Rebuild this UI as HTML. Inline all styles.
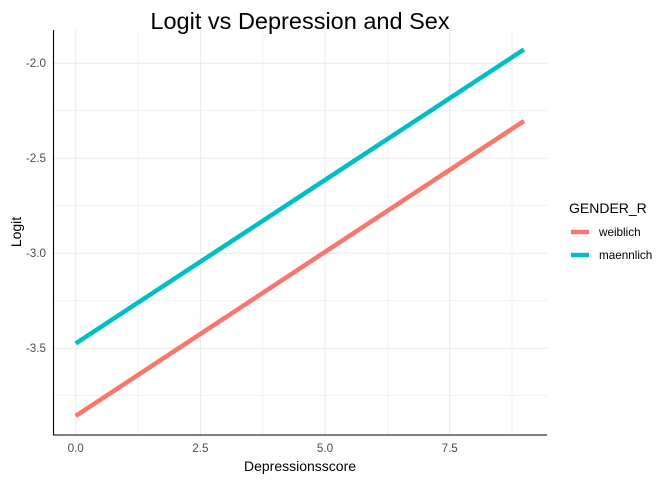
<!DOCTYPE html>
<html><head><style>body{margin:0;background:#fff}svg{display:block}</style></head>
<body>
<svg width="672" height="480" xmlns="http://www.w3.org/2000/svg" font-family="Liberation Sans, sans-serif">
<rect width="672" height="480" fill="#fff"/>
<g stroke="#ebebeb" stroke-width="0.6">
<line x1="54" x2="547" y1="110.7" y2="110.7"/><line x1="54" x2="547" y1="205.7" y2="205.7"/>
<line x1="54" x2="547" y1="300.7" y2="300.7"/><line x1="54" x2="547" y1="395.7" y2="395.7"/>
<line y1="30" y2="435" x1="138" x2="138"/><line y1="30" y2="435" x1="263" x2="263"/>
<line y1="30" y2="435" x1="388" x2="388"/><line y1="30" y2="435" x1="512" x2="512"/>
</g>
<g stroke="#ebebeb" stroke-width="1.1">
<line x1="54" x2="547" y1="63.3" y2="63.3"/><line x1="54" x2="547" y1="158.3" y2="158.3"/>
<line x1="54" x2="547" y1="253.3" y2="253.3"/><line x1="54" x2="547" y1="348.3" y2="348.3"/>
<line y1="30" y2="435" x1="75.7" x2="75.7"/><line y1="30" y2="435" x1="200.4" x2="200.4"/>
<line y1="30" y2="435" x1="325" x2="325"/><line y1="30" y2="435" x1="449.7" x2="449.7"/>
</g>
<line x1="75.7" y1="416" x2="524" y2="121" stroke="#F8766D" stroke-width="4.5"/>
<line x1="75.7" y1="343.5" x2="524" y2="49.5" stroke="#00BFC4" stroke-width="4.5"/>
<polyline points="53.5,30 53.5,435 547,435" fill="none" stroke="#000" stroke-width="1.1"/>
<g font-size="11.7" fill="#4d4d4d" text-anchor="end">
<text x="46" y="67">-2.0</text><text x="46" y="162">-2.5</text>
<text x="46" y="257">-3.0</text><text x="46" y="352">-3.5</text>
</g>
<g font-size="11.7" fill="#4d4d4d" text-anchor="middle">
<text x="75.7" y="452">0.0</text><text x="200.4" y="452">2.5</text>
<text x="325" y="452">5.0</text><text x="449.7" y="452">7.5</text>
</g>
<text x="300" y="471" font-size="14" text-anchor="middle">Depressionsscore</text>
<text transform="translate(21,232) rotate(-90)" font-size="14" text-anchor="middle">Logit</text>
<text x="300" y="29" font-size="23.5" text-anchor="middle">Logit vs Depression and Sex</text>
<text x="569" y="213" font-size="14">GENDER_R</text>
<line x1="571" x2="589" y1="232" y2="232" stroke="#F8766D" stroke-width="4.5"/>
<line x1="571" x2="589" y1="255" y2="255" stroke="#00BFC4" stroke-width="4.5"/>
<text x="599" y="236" font-size="11.7">weiblich</text>
<text x="599" y="259" font-size="11.7">maennlich</text>
</svg>
</body></html>
